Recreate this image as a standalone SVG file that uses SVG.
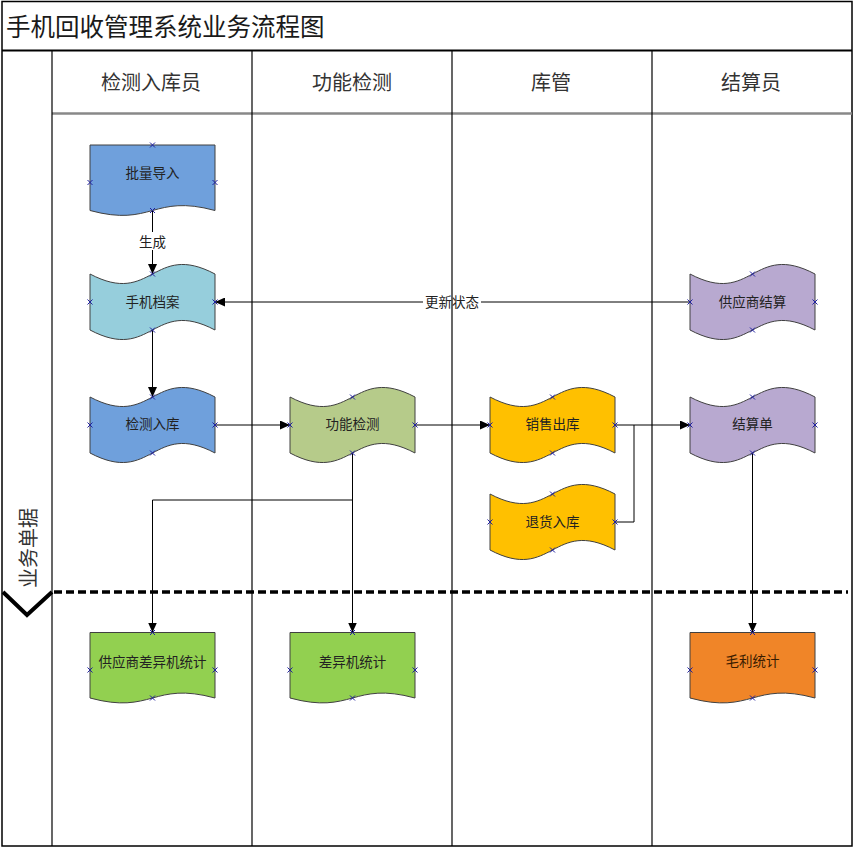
<svg xmlns="http://www.w3.org/2000/svg" width="856" height="849" viewBox="0 0 856 849">
<style>
.frame{fill:none;stroke:#000;stroke-width:1.5}
.lane{fill:none;stroke:#000;stroke-width:1.2}
.title{font-family:"Noto Sans CJK SC","Liberation Sans",sans-serif;font-size:24.5px;fill:#1a1a1a}
.hdr{font-family:"Noto Sans CJK SC","Liberation Sans",sans-serif;font-size:20px;fill:#333;text-anchor:middle;dominant-baseline:central}
.lbl{font-family:"Noto Sans CJK SC","Liberation Sans",sans-serif;font-size:13.5px;fill:#222;text-anchor:middle;dominant-baseline:central}
.shape{stroke:#404040;stroke-width:1}
.conn{fill:none;stroke:#000;stroke-width:1}
.cp{stroke:#2020a0;stroke-width:1}
</style>
<defs>
<marker id="arr" markerUnits="userSpaceOnUse" markerWidth="10" markerHeight="9" refX="10" refY="4.5" orient="auto">
<path d="M0,0 L10,4.5 L0,9 Z" fill="#000"/>
</marker>
<path id="x" d="M-2.5,-2.5 L2.5,2.5 M-2.5,2.5 L2.5,-2.5"/>
</defs>
<rect width="856" height="849" fill="#fff"/>
<g id="frame">
<rect class="frame" x="2" y="1.5" width="850" height="844.5"/>
<line x1="2" y1="50.5" x2="852" y2="50.5" stroke="#000" stroke-width="2"/>
<line x1="52" y1="113.5" x2="852" y2="113.5" stroke="#888" stroke-width="2.5"/>
<line class="lane" x1="52" y1="50" x2="52" y2="846"/>
<line class="lane" x1="252" y1="50" x2="252" y2="846"/>
<line class="lane" x1="452" y1="50" x2="452" y2="846"/>
<line class="lane" x1="652" y1="50" x2="652" y2="846"/>
<text class="title" x="6" y="25" dominant-baseline="central">手机回收管理系统业务流程图</text>
<text class="hdr" x="151" y="81">检测入库员</text>
<text class="hdr" x="352" y="81">功能检测</text>
<text class="hdr" x="551" y="81">库管</text>
<text class="hdr" x="751" y="81">结算员</text>
<text class="hdr" transform="translate(27,548) rotate(-90)" style="font-size:20px">业务单据</text>
<path d="M3,592 L27,615 L52,592" fill="none" stroke="#000" stroke-width="4"/>
<line x1="54" y1="592" x2="848" y2="592" stroke="#000" stroke-width="3.5" stroke-dasharray="8 4"/>
</g>
<g id="connectors">
<path class="conn" d="M152.5,210.5 L152.5,232"/>
<path class="conn" d="M152.5,250 L152.5,274" marker-end="url(#arr)"/>
<text class="lbl" x="152.5" y="241">生成</text>
<path class="conn" d="M690,302 L481,302"/>
<path class="conn" d="M423,302 L215,302" marker-end="url(#arr)"/>
<text class="lbl" x="452" y="301">更新状态</text>
<path class="conn" d="M152.5,330 L152.5,397" marker-end="url(#arr)"/>
<path class="conn" d="M215,425 L290,425" marker-end="url(#arr)"/>
<path class="conn" d="M415,425 L490,425" marker-end="url(#arr)"/>
<path class="conn" d="M615,425 L690,425" marker-end="url(#arr)"/>
<path class="conn" d="M615,522 L634,522 L634,425"/>
<path class="conn" d="M352.5,453 L352.5,632.5" marker-end="url(#arr)"/>
<path class="conn" d="M352.5,500 L152.5,500 L152.5,632.5" marker-end="url(#arr)"/>
<path class="conn" d="M752.5,453 L752.5,632.5" marker-end="url(#arr)"/>
</g>
<g id="n-pldr">
<path class="shape" fill="#6FA0DC" d="M90,145 L215,145 L215,210.5 C152.5,193.5 152.5,227.5 90,210.5 Z"/>
<text class="lbl" x="152.5" y="171.5">批量导入</text>
</g>
<g id="n-sjda">
<path class="shape" fill="#96CEDC" d="M90,274 C152.5,307 152.5,241 215,274 L215,330 C152.5,297 152.5,363 90,330 Z"/>
<text class="lbl" x="152.5" y="301">手机档案</text>
</g>
<g id="n-jcrk">
<path class="shape" fill="#6FA0DC" d="M90,397 C152.5,430 152.5,364 215,397 L215,453 C152.5,420 152.5,486 90,453 Z"/>
<text class="lbl" x="152.5" y="423">检测入库</text>
</g>
<g id="n-gnjc">
<path class="shape" fill="#B6CB8A" d="M290,397 C352.5,430 352.5,364 415,397 L415,453 C352.5,420 352.5,486 290,453 Z"/>
<text class="lbl" x="352.5" y="423">功能检测</text>
</g>
<g id="n-xsck">
<path class="shape" fill="#FFC000" d="M490,397 C552.5,430 552.5,364 615,397 L615,453 C552.5,420 552.5,486 490,453 Z"/>
<text class="lbl" x="552.5" y="423">销售出库</text>
</g>
<g id="n-thrk">
<path class="shape" fill="#FFC000" d="M490,494 C552.5,527 552.5,461 615,494 L615,550 C552.5,517 552.5,583 490,550 Z"/>
<text class="lbl" x="552.5" y="521">退货入库</text>
</g>
<g id="n-gysjs">
<path class="shape" fill="#B8A9D0" d="M690,274 C752.5,307 752.5,241 815,274 L815,330 C752.5,297 752.5,363 690,330 Z"/>
<text class="lbl" x="752.5" y="301">供应商结算</text>
</g>
<g id="n-jsd">
<path class="shape" fill="#B8A9D0" d="M690,397 C752.5,430 752.5,364 815,397 L815,453 C752.5,420 752.5,486 690,453 Z"/>
<text class="lbl" x="752.5" y="423">结算单</text>
</g>
<g id="n-gyscyj">
<path class="shape" fill="#92D050" d="M90,632.5 L215,632.5 L215,698 C152.5,681 152.5,715 90,698 Z"/>
<text class="lbl" x="152.5" y="661">供应商差异机统计</text>
</g>
<g id="n-cyj">
<path class="shape" fill="#92D050" d="M290,632.5 L415,632.5 L415,698 C352.5,681 352.5,715 290,698 Z"/>
<text class="lbl" x="352.5" y="661">差异机统计</text>
</g>
<g id="n-mltj">
<path class="shape" fill="#F08528" d="M690,632.5 L815,632.5 L815,698 C752.5,681 752.5,715 690,698 Z"/>
<text class="lbl" x="752.5" y="660" style="fill:#3a1c00">毛利统计</text>
</g>
<g id="conn-points" class="cp">
<use href="#x" x="152.5" y="145"/><use href="#x" x="90" y="182.5"/><use href="#x" x="215" y="182.5"/><use href="#x" x="152.5" y="210.5"/>
<use href="#x" x="152.5" y="274"/><use href="#x" x="90" y="302"/><use href="#x" x="215" y="302"/><use href="#x" x="152.5" y="330"/>
<use href="#x" x="152.5" y="397"/><use href="#x" x="90" y="425"/><use href="#x" x="215" y="425"/><use href="#x" x="152.5" y="453"/>
<use href="#x" x="352.5" y="397"/><use href="#x" x="290" y="425"/><use href="#x" x="415" y="425"/><use href="#x" x="352.5" y="453"/>
<use href="#x" x="552.5" y="397"/><use href="#x" x="490" y="425"/><use href="#x" x="615" y="425"/><use href="#x" x="552.5" y="453"/>
<use href="#x" x="552.5" y="494"/><use href="#x" x="490" y="522"/><use href="#x" x="615" y="522"/><use href="#x" x="552.5" y="550"/>
<use href="#x" x="752.5" y="274"/><use href="#x" x="690" y="302"/><use href="#x" x="815" y="302"/><use href="#x" x="752.5" y="330"/>
<use href="#x" x="752.5" y="397"/><use href="#x" x="690" y="425"/><use href="#x" x="815" y="425"/><use href="#x" x="752.5" y="453"/>
<use href="#x" x="152.5" y="632.5"/><use href="#x" x="90" y="670"/><use href="#x" x="215" y="670"/><use href="#x" x="152.5" y="698"/>
<use href="#x" x="352.5" y="632.5"/><use href="#x" x="290" y="670"/><use href="#x" x="415" y="670"/><use href="#x" x="352.5" y="698"/>
<use href="#x" x="752.5" y="632.5"/><use href="#x" x="690" y="670"/><use href="#x" x="815" y="670"/><use href="#x" x="752.5" y="698"/>
</g>
</svg>
